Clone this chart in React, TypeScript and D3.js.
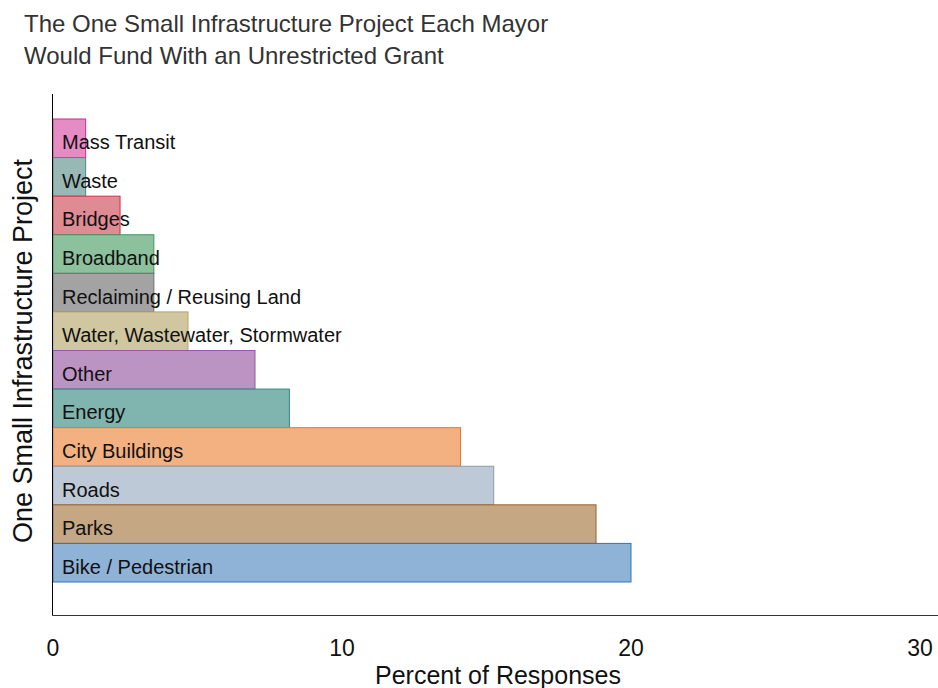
import React, { useEffect, useRef } from "react";
import * as d3 from "d3";

const projects = [
  "Mass Transit",
  "Waste",
  "Bridges",
  "Broadband",
  "Reclaiming / Reusing Land",
  "Water, Wastewater, Stormwater",
  "Other",
  "Energy",
  "City Buildings",
  "Roads",
  "Parks",
  "Bike / Pedestrian",
];
const percents = [1.13, 1.13, 2.32, 3.49, 3.49, 4.67, 6.99, 8.18, 14.1, 15.25, 18.79, 20.0];
const fillColors = [
  "#e48cc3", "#97b8b5", "#de8b93", "#8dc09c", "#a3a3a3", "#d0c6a0",
  "#bb94c3", "#80b4af", "#f3b081", "#bdc9d6", "#c5a784", "#8fb2d7",
];
const strokeColors = [
  "#d4298a", "#4a8a85", "#d03048", "#3f9a5c", "#707070", "#b8a55e",
  "#9a55a8", "#2f8a80", "#f07428", "#8a9ab0", "#9a6228", "#2f74be",
];
const xTicks = [0, 10, 20, 30];

const W = 938;
const H = 688;

export default function App() {
  const svgRef = useRef<SVGSVGElement>(null);

  useEffect(() => {
    const svg = d3.select(svgRef.current);
    svg.selectAll("*").remove();
    const font = "Liberation Sans, Arial, sans-serif";

    const x = d3.scaleLinear().domain([0, 30]).range([53, 920]);
    const y = d3.scaleBand<string>().domain(projects).range([119, 582]).padding(0);

    // title
    svg.append("text")
      .attr("x", 24).attr("y", 32)
      .attr("font-family", font).attr("font-size", 24).attr("fill", "#333")
      .text("The One Small Infrastructure Project Each Mayor");
    svg.append("text")
      .attr("x", 24).attr("y", 64)
      .attr("font-family", font).attr("font-size", 24).attr("fill", "#333")
      .text("Would Fund With an Unrestricted Grant");

    // bars
    const rows = projects.map((p, i) => ({ name: p, value: percents[i], fill: fillColors[i], stroke: strokeColors[i] }));
    svg.append("g")
      .selectAll("rect")
      .data(rows)
      .join("rect")
      .attr("x", x(0))
      .attr("y", d => y(d.name)!)
      .attr("width", d => x(d.value) - x(0))
      .attr("height", y.bandwidth())
      .attr("fill", d => d.fill)
      .attr("stroke", d => d.stroke)
      .attr("stroke-width", 1);

    svg.append("g")
      .selectAll("text")
      .data(rows)
      .join("text")
      .attr("x", 62)
      .attr("y", d => y(d.name)! + y.bandwidth() / 2 + 11)
      .attr("font-family", font).attr("font-size", 20).attr("fill", "#111")
      .text(d => d.name);

    // axes lines
    svg.append("line")
      .attr("x1", 52.5).attr("x2", 52.5).attr("y1", 94).attr("y2", 615.5)
      .attr("stroke", "#000");
    svg.append("line")
      .attr("x1", 52.5).attr("x2", W).attr("y1", 615.5).attr("y2", 615.5)
      .attr("stroke", "#333");

    // x ticks
    svg.append("g")
      .selectAll("text")
      .data(xTicks)
      .join("text")
      .attr("x", d => x(d))
      .attr("y", 656)
      .attr("text-anchor", "middle")
      .attr("font-family", font).attr("font-size", 23).attr("fill", "#111")
      .text(d => d);

    svg.append("text")
      .attr("x", 498).attr("y", 684)
      .attr("text-anchor", "middle")
      .attr("font-family", font).attr("font-size", 25).attr("fill", "#111")
      .text("Percent of Responses");

    svg.append("text")
      .attr("transform", "translate(32,351) rotate(-90)")
      .attr("text-anchor", "middle")
      .attr("font-family", font).attr("font-size", 27).attr("fill", "#111")
      .text("One Small Infrastructure Project");
  }, []);

  return (
    <svg
      ref={svgRef}
      width={W}
      height={H}
      style={{ position: "absolute", left: 0, top: 0, background: "#fff" }}
    />
  );
}
